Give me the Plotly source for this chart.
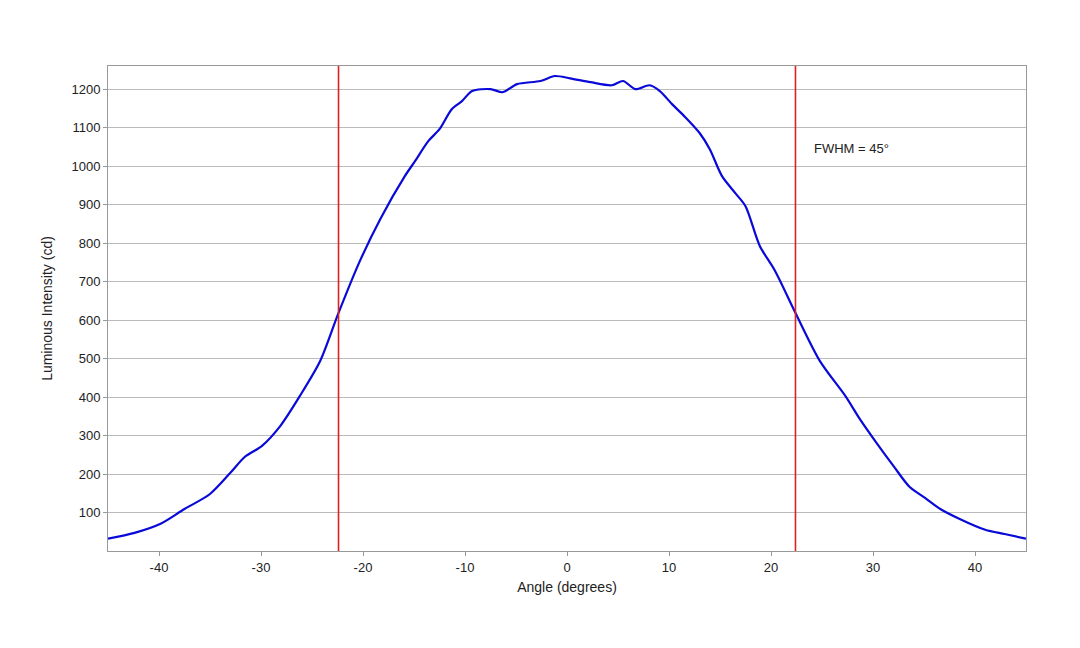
import plotly.graph_objects as go

angles = [-45,-42.4,-39.9,-37.5,-35,-33,-31.6,-29.9,-28.1,-26.2,-24.2,-22.4,-20.3,-18.3,-15.9,-14.9,-13.6,-12.5,-11.3,-10.3,-9.3,-7.5,-6.3,-4.9,-2.6,-1.2,0.3,2.3,4.4,5.5,6.7,8.1,9.1,10.3,11.6,13,14,15.2,16.5,17.5,18.9,20.4,22.4,24.8,27.3,28.7,30.2,32,33.6,35.1,36.6,38.5,41,42.9,45]
intensity = [33,48,71,110,149,204,245,274,326,403,494,619,754,863,974,1013,1065,1096,1148,1169,1195,1200,1192,1213,1221,1234,1228,1218,1210,1221,1200,1210,1195,1161,1127,1086,1044,974,930,896,793,728,619,494,403,344,287,222,167,139,110,84,56,45,33]
fwhm_lines = [-22.4, 22.4]
xticks = [-40,-30,-20,-10,0,10,20,30,40]
xticklabels = ["-40","-30","-20","-10","0","10","20","30","40"]
yticks = [100,200,300,400,500,600,700,800,900,1000,1100,1200]

fig = go.Figure()
fig.add_trace(go.Scatter(x=angles, y=intensity, mode="lines",
                         line=dict(color="#0a0ad8", width=2.2, shape="spline", smoothing=0.8)))
for xv in fwhm_lines:
    fig.add_trace(go.Scatter(x=[xv, xv], y=[1, 1260], mode="lines",
                             line=dict(color="#e02020", width=1.6)))
fig.add_annotation(x=24, y=1047, text="FWHM = 45°", showarrow=False, xanchor="left",
                   font=dict(size=13, color="#222"))
fig.update_layout(
    width=1080, height=648, showlegend=False,
    paper_bgcolor="white", plot_bgcolor="white",
    margin=dict(l=100, r=62, t=58, b=105),
    font=dict(family="Liberation Sans, Arial", size=13, color="#222"),
    xaxis=dict(range=[-45, 45], tickvals=xticks, ticktext=xticklabels, showgrid=False, zeroline=False,
               showline=True, mirror=True, linecolor="#999", ticks="outside",
               ticklen=4, tickcolor="#999",
               title=dict(text="Angle (degrees)", font=dict(size=14), standoff=8)),
    yaxis=dict(range=[1, 1260], tickvals=yticks, showgrid=True, gridcolor="#bbb",
               zeroline=False, showline=True, mirror=True, linecolor="#999",
               ticks="outside", ticklen=4, tickcolor="#999",
               title=dict(text="Luminous Intensity (cd)", font=dict(size=14))),
)
fig.write_html("out.html")
